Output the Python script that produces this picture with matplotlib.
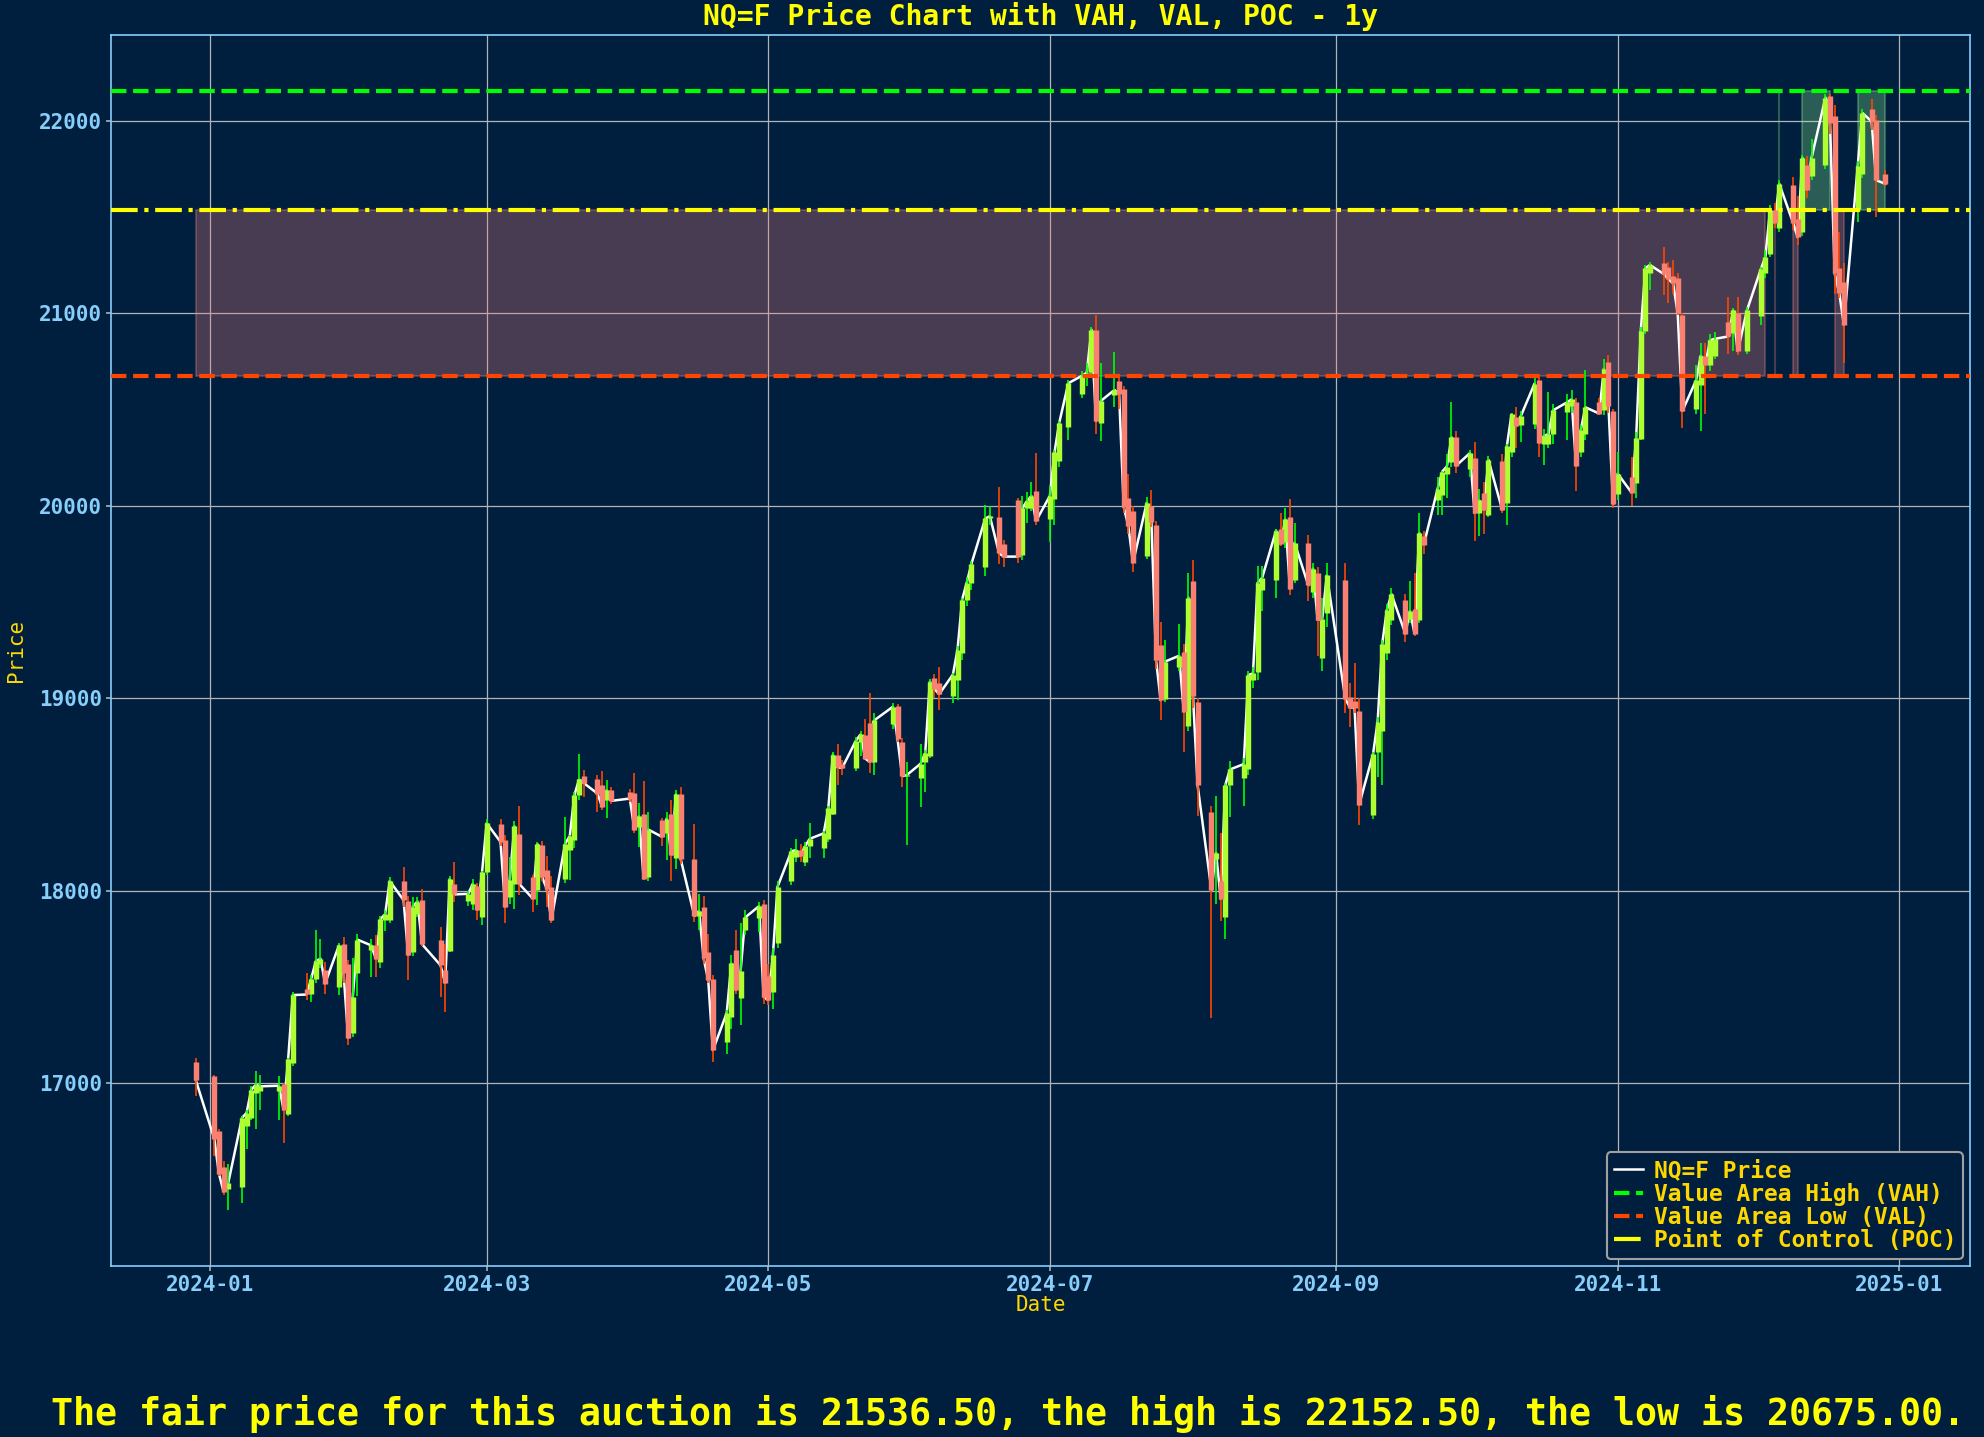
import matplotlib
matplotlib.use('Agg')
import matplotlib.pyplot as plt
import numpy as np
import pandas as pd

plt.rcParams['font.family'] = ['DejaVu Sans Mono']
plt.rcParams['font.weight'] = 'bold'

ticker = 'NQ=F'
poc = 21536.50
vah = 22152.50
val = 20675.00

navy = '#001f3f'

# trading days: Dec 29 2023 .. Dec 27 2024, plus the Sunday session of Dec 29 2024
holidays = ['2024-01-01', '2024-01-15', '2024-02-19', '2024-03-29', '2024-05-27',
            '2024-06-19', '2024-07-04', '2024-09-02', '2024-11-28', '2024-12-25']
days = pd.bdate_range('2023-12-29', '2024-12-27')
days = days[~days.isin(pd.to_datetime(holidays))]
dates = days.append(pd.DatetimeIndex(['2024-12-29']))

opens = [
    17109,
    # Jan
    17038, 16750, 16566, 16448, 16460, 16776, 16819, 16950, 16960, 16957, 16997,
    16841, 17103, 17490, 17460, 17543, 17620, 17586, 17500, 17724, 17619,
    # Feb
    17260, 17570, 17690, 17715, 17629, 17845, 17845, 18050, 17945, 17683, 17880,
    17952, 17745, 17586, 17686, 18035, 17948, 17930, 18026, 17860,
    # Mar
    18095, 18348, 18262, 17967, 18033, 18293, 18068, 18002, 18236, 18109, 18019,
    18062, 18210, 18262, 18495, 18594, 18582, 18547, 18469, 18521,
    # Apr
    18513, 18505, 18330, 18397, 18071, 18365, 18300, 18397, 18171, 18500, 18166,
    17867, 17912, 17681, 17543, 17214, 17344, 17693, 17440, 17797, 17855, 17932,
    # May
    17555, 17474, 17728, 18050, 18176, 18210, 18148, 18232, 18223, 18269, 18399,
    18705, 18655, 18637, 18770, 18807, 18872, 18668, 18863, 18959, 18770, 18594,
    # Jun
    18584, 18668, 18700, 19104, 19076, 19011, 19094, 19234, 19512, 19600, 19683,
    19933, 19942, 19800, 20028, 19744, 19985, 19985, 20078,
    # Jul
    19930, 20032, 20230, 20406, 20582, 20680, 20694, 20914, 20427, 20573, 20647,
    20605, 20039, 19970, 19738, 19998, 19898, 19274, 18995, 19162, 19237, 18856,
    # Aug
    19608, 18977, 18408, 18164, 18049, 17863, 18548, 18583, 18633, 19093, 19135,
    19561, 19615, 19877, 19812, 19940, 19615, 19807, 19552, 19650, 19209, 19441,
    # Sep
    19612, 19006, 18986, 18933, 18390, 18719, 18828, 19232, 19407, 19509, 19411,
    19464, 19407, 19842, 20027, 20053, 20166, 20228, 20355, 20191,
    # Oct
    20248, 19961, 20068, 19951, 20234, 20012, 20279, 20458, 20417, 20423, 20655,
    20320, 20320, 20372, 20484, 20519, 20536, 20279, 20372, 20536, 20495, 20745,
    20491,
    # Nov
    20060, 20150, 20115, 20347, 20905, 21210, 21262, 21238, 21193, 21181, 20991,
    20500, 20629, 20776, 20733, 20779, 20952, 20897, 21003, 20802,
    # Dec
    20983, 21207, 21307, 21536.5, 21440, 21664, 21491, 21422, 21772, 21710, 21767,
    22130, 22026, 21233, 21164, 21543, 21725, 22060, 22003, 21724,
]

highs = [
    17129,
    # Jan
    17043, 16760, 16595, 16581, 16830, 16860, 16985, 17060, 17043, 17038, 17000,
    17130, 17474, 17574, 17560, 17793, 17750, 17630, 17730, 17760, 17640,
    # Feb
    17650, 17772, 17750, 17767, 17870, 17897, 18069, 18120, 17970, 17964, 17964,
    18010, 17810, 17724, 18078, 18147, 18000, 18060, 18040, 18104,
    # Mar
    18370, 18374, 18290, 18175, 18360, 18438, 18080, 18250, 18257, 18178, 18074,
    18381, 18290, 18510, 18708, 18624, 18600, 18622, 18574, 18540,
    # Apr
    18530, 18611, 18455, 18570, 18410, 18378, 18409, 18473, 18520, 18540, 18348,
    17984, 17970, 17773, 17560, 17380, 17664, 17794, 17830, 17901, 17941, 17950,
    # May
    17620, 17700, 18050, 18220, 18270, 18241, 18250, 18351, 18310, 18440, 18720,
    18761, 18680, 18800, 18830, 18891, 19026, 18922, 18975, 18970, 18790, 18668,
    # Jun
    18761, 18730, 19100, 19124, 19160, 19130, 19270, 19520, 19630, 19710, 20003,
    19998, 20096, 19820, 20040, 20050, 20070, 20120, 20272,
    # Jul
    20100, 20290, 20440, 20650, 20700, 20740, 20930, 20990, 20740, 20798, 20680,
    20620, 20165, 20000, 20045, 20080, 19920, 19394, 19302, 19383, 19280, 19650,
    # Aug
    19719, 19000, 18440, 18490, 18300, 18560, 18673, 18690, 19140, 19160, 19685,
    19685, 19880, 19960, 19985, 20032, 19912, 19847, 19700, 19680, 19520, 19700,
    # Sep
    19700, 19080, 19180, 19000, 18720, 18900, 19300, 19490, 19570, 19540, 19610,
    19650, 19960, 19870, 20150, 20180, 20270, 20536, 20390, 20290,
    # Oct
    20330, 20085, 20120, 20260, 20270, 20320, 20480, 20510, 20490, 20670, 20670,
    20400, 20590, 20530, 20580, 20600, 20560, 20420, 20704, 20560, 20760, 20782,
    20500,
    # Nov
    20280, 20250, 20380, 20930, 21250, 21267, 21345, 21267, 21276, 21210, 21000,
    20733, 20845, 20845, 20890, 20900, 21083, 21026, 21083, 21030,
    # Dec
    21240, 21328, 21560, 21570, 21690, 21707, 21607, 21820, 21814, 21905, 22140,
    22140, 22080, 21422, 21260, 21790, 22060, 22110, 22030, 21745,
]

lows = [
    16934,
    # Jan
    16621, 16517, 16420, 16340, 16379, 16655, 16810, 16760, 16862, 16810, 16690,
    16830, 17090, 17431, 17422, 17520, 17600, 17465, 17457, 17520, 17200,
    # Feb
    17240, 17450, 17552, 17550, 17600, 17790, 17830, 17914, 17534, 17660, 17860,
    17714, 17448, 17370, 17680, 17940, 17920, 17900, 17845, 17820,
    # Mar
    18080, 18230, 17829, 17932, 17906, 17975, 17889, 17924, 18050, 17915, 17829,
    18040, 18054, 18223, 18470, 18487, 18409, 18420, 18378, 18450,
    # Apr
    18460, 18300, 18227, 18054, 18050, 18230, 18158, 18050, 18110, 18140, 17837,
    17794, 17620, 17520, 17110, 17153, 17283, 17460, 17300, 17770, 17785, 17413,
    # May
    17404, 17387, 17700, 18030, 18150, 18149, 18130, 18167, 18167, 18250, 18390,
    18547, 18600, 18620, 18700, 18686, 18612, 18600, 18840, 18770, 18538, 18238,
    # Jun
    18436, 18510, 18690, 19000, 18937, 18974, 18990, 19200, 19480, 19560, 19634,
    19900, 19694, 19680, 19700, 19715, 19910, 19970, 19900,
    # Jul
    19809, 19900, 20200, 20340, 20560, 20620, 20680, 20373, 20334, 20510, 20500,
    19960, 19850, 19654, 19720, 19890, 19150, 18884, 18980, 19140, 18722, 18830,
    # Aug
    18950, 18385, 17340, 17930, 17840, 17747, 18380, 18440, 18600, 19050, 19095,
    19450, 19520, 19790, 19780, 19538, 19600, 19506, 19520, 19220, 19140, 19370,
    # Sep
    18920, 18850, 18920, 18339, 18370, 18590, 18550, 19200, 19380, 19290, 19390,
    19320, 19390, 19750, 19950, 19950, 20040, 20200, 20170, 20150,
    # Oct
    19817, 19840, 19850, 19940, 19960, 19900, 20250, 20300, 20330, 20400, 20250,
    20210, 20300, 20320, 20340, 20480, 20074, 20250, 20340, 20470, 20470, 20480,
    19990,
    # Nov
    20030, 20000, 20040, 20340, 20890, 21120, 21095, 21050, 21100, 20990, 20405,
    20474, 20388, 20474, 20700, 20760, 20788, 20802, 20780, 20790,
    # Dec
    20940, 21180, 21290, 21440, 21422, 21430, 21353, 21400, 21600, 21690, 21750,
    21930, 21100, 21078, 20741, 21474, 21700, 21950, 21500, 21660,
]

closes = [
    17014,
    # Jan
    16710, 16529, 16436, 16479, 16819, 16845, 16966, 16990, 16983, 16986, 16862,
    17124, 17457, 17460, 17543, 17634, 17646, 17517, 17715, 17570, 17233,
    # Feb
    17448, 17745, 17715, 17646, 17853, 17876, 18050, 17950, 17664, 17917, 17943,
    17721, 17612, 17520, 18060, 17980, 17983, 18035, 17900, 18095,
    # Mar
    18350, 18253, 17915, 18057, 18334, 18036, 17958, 18241, 18071, 18010, 17846,
    18244, 18282, 18495, 18577, 18559, 18504, 18435, 18521, 18466,
    # Apr
    18478, 18317, 18386, 18062, 18317, 18279, 18374, 18184, 18500, 18166, 17867,
    17894, 17647, 17534, 17170, 17364, 17621, 17482, 17580, 17860, 17919, 17447,
    # May
    17430, 17664, 18019, 18204, 18210, 18180, 18232, 18269, 18297, 18427, 18705,
    18640, 18637, 18779, 18811, 18686, 18668, 18885, 18955, 18788, 18594, 18600,
    # Jun
    18659, 18714, 19085, 19048, 19020, 19122, 19252, 19512, 19600, 19697, 19933,
    19945, 19753, 19735, 19735, 19985, 20022, 20050, 19920,
    # Jul
    20050, 20276, 20427, 20636, 20675, 20690, 20914, 20438, 20543, 20601, 20578,
    19993, 19893, 19703, 20016, 19916, 19197, 18988, 19190, 19220, 18930, 19522,
    # Aug
    19012, 18548, 18002, 18197, 17956, 18548, 18629, 18657, 19120, 19128, 19599,
    19626, 19870, 19800, 19928, 19568, 19807, 19585, 19673, 19406, 19413, 19638,
    # Sep
    18996, 18951, 18951, 18446, 18708, 18877, 19283, 19458, 19540, 19335, 19452,
    19335, 19858, 19797, 20088, 20177, 20203, 20355, 20207, 20273,
    # Oct
    19961, 20027, 19977, 20238, 19977, 20310, 20474, 20413, 20464, 20634, 20326,
    20361, 20372, 20495, 20536, 20552, 20207, 20392, 20511, 20478, 20710, 20519,
    20006,
    # Nov
    20166, 20068, 20351, 20905, 21234, 21250, 21203, 21176, 21155, 21000, 20491,
    20652, 20779, 20733, 20859, 20866, 20879, 21014, 20802, 21014,
    # Dec
    21228, 21293, 21536.5, 21470, 21672, 21469, 21393, 21807, 21641, 21807, 22120,
    21990, 21207, 21103, 20940, 21766, 22040, 21996, 21690, 21672,
]

o = np.array(opens, dtype=float)
h = np.array(highs, dtype=float)
l = np.array(lows, dtype=float)
c = np.array(closes, dtype=float)

fig, ax = plt.subplots(figsize=(13.2333, 9.58), dpi=150)
fig.patch.set_facecolor(navy)
ax.set_facecolor(navy)
fig.subplots_adjust(left=0.0561, right=0.9924, top=0.9754, bottom=0.119)

# value area shading
ax.fill_between(dates, val, poc, where=c < poc, color='lightcoral', alpha=0.3, zorder=1)
ax.fill_between(dates, poc, vah, where=c > poc, color='lightgreen', alpha=0.3, zorder=1)

# close line
ax.plot(dates, c, color='white', lw=1.2, label=f'{ticker} Price', zorder=2)

# candles: thin wicks, thick bodies
up = c >= o
dn = ~up
ax.vlines(dates[up], l[up], h[up], color='lime', lw=0.8, zorder=3)
ax.vlines(dates[dn], l[dn], h[dn], color='orangered', lw=0.8, zorder=3)
ax.vlines(dates[up], o[up], c[up], color='greenyellow', lw=2.6, zorder=4)
ax.vlines(dates[dn], c[dn], o[dn], color='salmon', lw=2.6, zorder=4)

# VAH / VAL / POC
ax.axhline(vah, color='lime', ls='--', lw=2, label='Value Area High (VAH)', zorder=5)
ax.axhline(val, color='orangered', ls='--', lw=2, label='Value Area Low (VAL)', zorder=5)
ax.axhline(poc, color='yellow', ls='-.', lw=2, label='Point of Control (POC)', zorder=5)

ax.set_title(f'{ticker} Price Chart with VAH, VAL, POC - 1y', color='yellow',
             fontsize=13.5, fontweight='bold', pad=5)
ax.set_xlabel('Date', color='gold', fontsize=10, labelpad=0)
ax.set_ylabel('Price', color='gold', fontsize=10, labelpad=6)

ax.tick_params(axis='both', colors='#b0b0b0', labelcolor='lightskyblue',
               labelsize=10, length=2.5, pad=2)
for sp in ax.spines.values():
    sp.set_color('lightskyblue')
ax.grid(True, color='#b4b4b4', lw=0.6)
ax.set_axisbelow(True)

ax.legend(loc='lower right', facecolor=navy, edgecolor='#a0a0a0',
          labelcolor='gold', fontsize=11, handlelength=1.3,
          labelspacing=0.0, borderpad=0.3, handletextpad=0.45,
          borderaxespad=0.3, framealpha=1)

fig.text(0.508, 0.016,
         f'The fair price for this auction is {poc:.2f}, the high is {vah:.2f}, '
         f'the low is {val:.2f}.',
         color='yellow', fontsize=17.6, ha='center', va='center')

fig.savefig('out.png', dpi=150, facecolor=navy)
